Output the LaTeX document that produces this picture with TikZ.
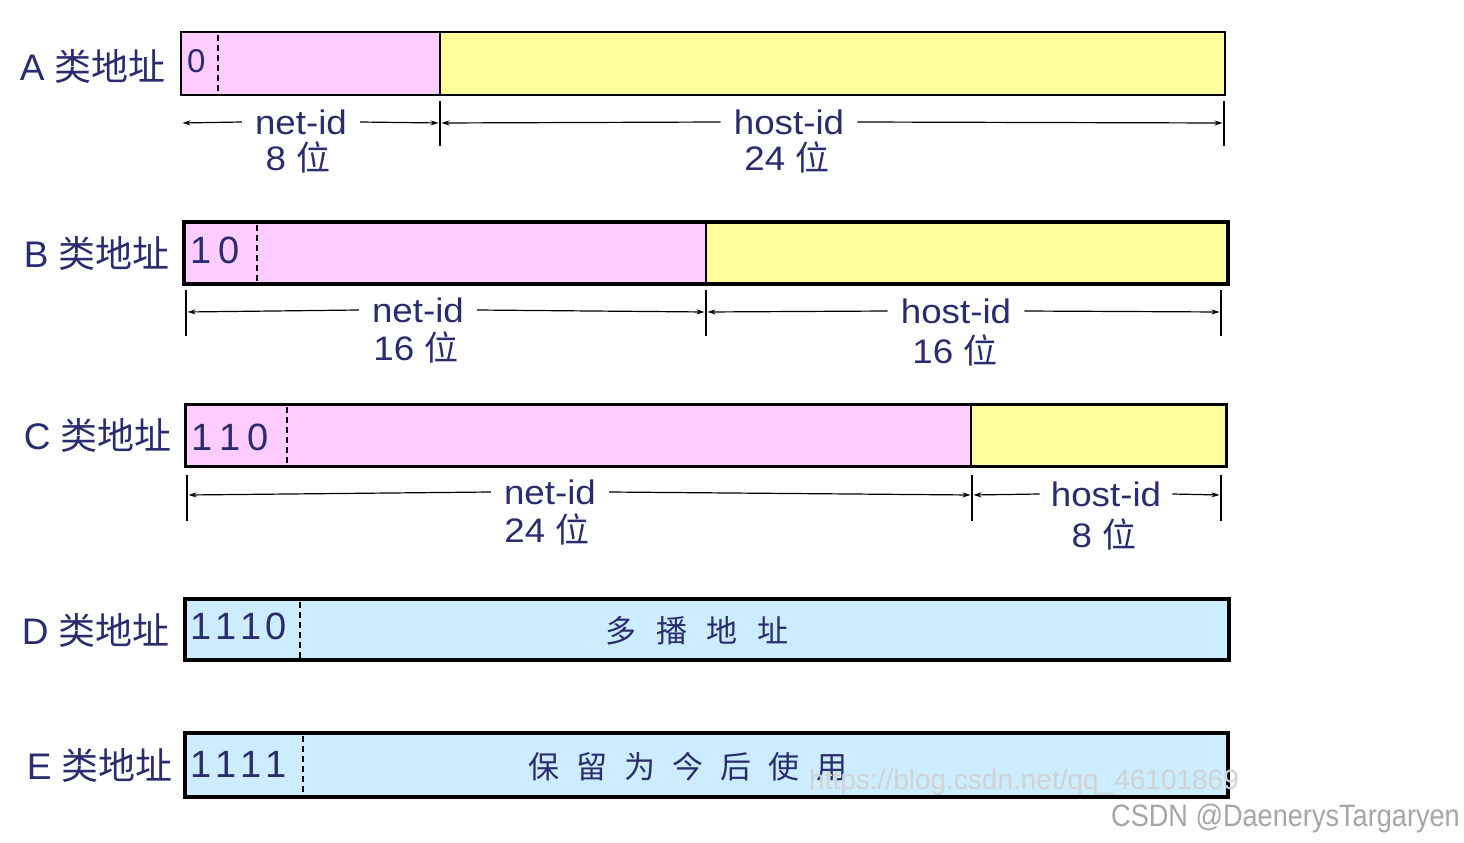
\documentclass[tikz,border=0pt]{standalone}
\usepackage{fontspec}
\setmainfont{Liberation Sans}
\newfontfamily\cjk{Noto Sans CJK SC}
\newfontfamily\narrowsans[FakeStretch=0.875]{Liberation Sans}
\newfontfamily\widesans[FakeStretch=1.08]{Liberation Sans}
\usetikzlibrary{arrows.meta}
\definecolor{navy}{RGB}{42,44,110}
\definecolor{pinkf}{RGB}{255,204,255}
\definecolor{yellf}{RGB}{255,255,153}
\definecolor{bluef}{RGB}{204,236,255}
\newcommand{\zh}[1]{{\cjk #1}}
\begin{document}
\begin{tikzpicture}[x=1pt,y=-1pt,
 rowlab/.style={anchor=east,text=navy,font=\fontsize{37}{40}\selectfont,inner sep=0pt},
 bits/.style={anchor=west,text=navy,font=\fontsize{38}{40}\selectfont,inner sep=0pt},
 dimlab/.style={text=navy,font=\widesans\fontsize{34}{36}\selectfont,inner xsep=13pt,inner ysep=0pt},
 bitlab/.style={text=navy,font=\widesans\fontsize{34}{36}\selectfont,inner sep=0pt},
 midtext/.style={text=navy,font=\fontsize{31}{34}\cjk,inner sep=0pt},
 dimarrow/.style={draw=black,line width=1.2pt,shorten >=1.5pt,-{Stealth[length=8pt,width=5pt]}},
 tickline/.style={draw=black,line width=1.3pt},
 bitsep/.style={draw=black,dash pattern=on 6pt off 4pt,line width=1.6pt},
]
\useasboundingbox[fill=white] (0,0) rectangle (1464,843);

% ---------- A ----------
\node[rowlab] (labA) at (166,66) {A \zh{类地址}};
\fill[pinkf] (181,32) rectangle (440,95);
\fill[yellf] (440,32) rectangle (1225,95);
\draw[line width=1.6pt] (181,32) rectangle (1225,95);
\draw[line width=1.6pt] (440,32) -- (440,95);
\draw[bitsep] (218,35) -- (218,93);
\node[bits,font=\fontsize{33}{36}\selectfont] (bitsA) at (187,61) {0};
\coordinate (AL) at (181,123);
\coordinate (AM) at (440,123);
\coordinate (AR) at (1224,123);
\draw[tickline] (440,101) -- (440,146);
\draw[tickline] (1224,101) -- (1224,146);
\node[dimlab] (Anet) at (301,122) {net-id};
\node[bitlab] (Anetb) at (298,157) {8 \zh{位}};
\node[dimlab] (Ahost) at (789,122) {host-id};
\node[bitlab] (Ahostb) at (787,157) {24 \zh{位}};
\draw[dimarrow] (Anet.west) -- (AL);
\draw[dimarrow] (Anet.east) -- (AM);
\draw[dimarrow] (Ahost.west) -- (AM);
\draw[dimarrow] (Ahost.east) -- (AR);

% ---------- B ----------
\node[rowlab] (labB) at (170,253) {B \zh{类地址}};
\fill[pinkf] (184,222) rectangle (706,284);
\fill[yellf] (706,222) rectangle (1228,284);
\draw[line width=3.6pt] (184,222) rectangle (1228,284);
\draw[line width=2pt] (706,222) -- (706,284);
\draw[bitsep] (257,225) -- (257,282);
\node[bits] (bitsB) at (190,250) {1\hspace{7pt}0};
\coordinate (BL) at (186,312);
\coordinate (BM) at (706,312);
\coordinate (BR) at (1221,312);
\draw[tickline] (186,290) -- (186,336);
\draw[tickline] (706,290) -- (706,336);
\draw[tickline] (1221,290) -- (1221,336);
\node[dimlab] (Bnet) at (418,310) {net-id};
\node[bitlab] (Bnetb) at (416,347) {16 \zh{位}};
\node[dimlab] (Bhost) at (956,311) {host-id};
\node[bitlab] (Bhostb) at (955,350) {16 \zh{位}};
\draw[dimarrow] (Bnet.west) -- (BL);
\draw[dimarrow] (Bnet.east) -- (BM);
\draw[dimarrow] (Bhost.west) -- (BM);
\draw[dimarrow] (Bhost.east) -- (BR);

% ---------- C ----------
\node[rowlab] (labC) at (172,435) {C \zh{类地址}};
\fill[pinkf] (185,404) rectangle (971,466);
\fill[yellf] (971,404) rectangle (1226,466);
\draw[line width=3pt] (185,404) rectangle (1226,466);
\draw[line width=2.5pt] (971,404) -- (971,466);
\draw[bitsep] (287,407) -- (287,464);
\node[bits] (bitsC) at (191,437) {1\hspace{7pt}1\hspace{7pt}0};
\coordinate (CL) at (187,495);
\coordinate (CM) at (972,495);
\coordinate (CR) at (1221,495);
\draw[tickline] (187,475) -- (187,521);
\draw[tickline] (972,475) -- (972,521);
\draw[tickline] (1221,475) -- (1221,521);
\node[dimlab] (Cnet) at (550,492) {net-id};
\node[bitlab] (Cnetb) at (547,529) {24 \zh{位}};
\node[dimlab,inner xsep=11pt] (Chost) at (1106,494) {host-id};
\node[bitlab] (Chostb) at (1104,534) {8 \zh{位}};
\draw[dimarrow] (Cnet.west) -- (CL);
\draw[dimarrow] (Cnet.east) -- (CM);
\draw[dimarrow] (Chost.west) -- (CM);
\draw[dimarrow] (Chost.east) -- (CR);

% ---------- D ----------
\node[rowlab] (labD) at (170,630) {D \zh{类地址}};
\fill[bluef] (185,599) rectangle (1229,660);
\draw[line width=3.4pt] (185,599) rectangle (1229,660);
\draw[bitsep] (300,602) -- (300,658);
\node[bits] (bitsD) at (190,626) {1\hspace{4pt}1\hspace{4pt}1\hspace{4pt}0};
\node[midtext] (textD) at (697,631) {多\hspace{20pt}播\hspace{20pt}地\hspace{20pt}址};

% ---------- E ----------
\node[rowlab] (labE) at (173,765) {E \zh{类地址}};
\fill[bluef] (185,733) rectangle (1228,797);
\draw[line width=3.8pt] (185,733) rectangle (1228,797);
\draw[bitsep,line width=2.4pt] (303,736) -- (303,795);
\node[bits] (bitsE) at (190,764) {1\hspace{4pt}1\hspace{4pt}1\hspace{4pt}1};
\node[midtext] (textE) at (688,767) {保\hspace{17pt}留\hspace{17pt}为\hspace{17pt}今\hspace{17pt}后\hspace{17pt}使\hspace{17pt}用};

% ---------- watermarks ----------
\node[anchor=west,inner sep=0pt,text=gray!35,font=\fontsize{28}{30}\selectfont] (wm1) at (809,782) {https://blog.csdn.net/qq\_46101869};
\node[anchor=east,inner sep=0pt,text=gray!70,font=\narrowsans\fontsize{31}{33}\selectfont] (wm2) at (1460,818) {CSDN @DaenerysTargaryen};
\end{tikzpicture}
\end{document}
